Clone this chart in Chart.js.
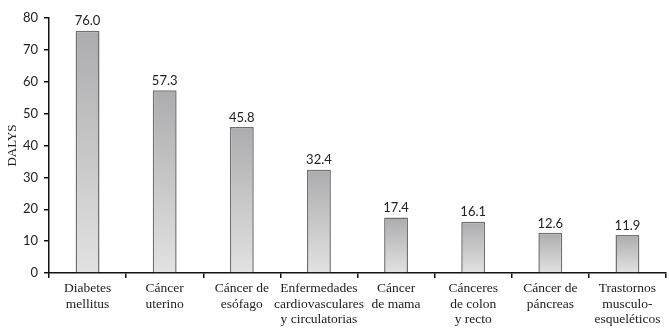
<!DOCTYPE html>
<html><head><meta charset="utf-8">
<script src="https://cdn.jsdelivr.net/npm/chart.js@4"></script>
<style>html,body{margin:0;padding:0;background:#fff}#wrap{width:669px;height:334px}</style>
</head><body><div id="wrap"><canvas id="c" width="669" height="334"></canvas></div>
<script>
const categories = [
  ["Diabetes","mellitus"],
  ["Cáncer","uterino"],
  ["Cáncer de","esófago"],
  ["Enfermedades","cardiovasculares","y circulatorias"],
  ["Cáncer","de mama"],
  ["Cánceres","de colon","y recto"],
  ["Cáncer de","páncreas"],
  ["Trastornos","musculo-","esqueléticos"]
];
const dalys = [76.0, 57.3, 45.8, 32.4, 17.4, 16.1, 12.6, 11.9];
const yTicks = [0,10,20,30,40,50,60,70,80];

const valueLabels = {
  id:'valueLabels',
  afterDatasetsDraw(chart){
    const ctx = chart.ctx;
    const meta = chart.getDatasetMeta(0);
    ctx.save();
    ctx.font = '13px Lato';
    ctx.fillStyle = '#222';
    ctx.textAlign = 'center';
    ctx.textBaseline = 'bottom';
    meta.data.forEach((el,i)=>{
      ctx.fillText(dalys[i].toFixed(1), el.x, el.y - 3);
    });
    ctx.restore();
  }
};

new Chart(document.getElementById('c'), {
  type:'bar',
  data:{
    labels: categories,
    datasets:[{
      data: dalys,
      backgroundColor(ctx){
        const ch = ctx.chart;
        const ca = ch.chartArea;
        if(!ca || ctx.dataIndex === undefined) return '#ccc';
        const ys = ch.scales.y;
        const top = ys.getPixelForValue(dalys[ctx.dataIndex]);
        const bot = ys.getPixelForValue(0);
        const g = ch.ctx.createLinearGradient(0, top, 0, bot);
        g.addColorStop(0, '#acacae');
        g.addColorStop(1, '#e2e2e2');
        return g;
      },
      borderColor:'#707070',
      borderWidth:1.5,
      borderSkipped:'bottom',
      categoryPercentage:1,
      barPercentage:0.31
    }]
  },
  options:{
    responsive:false,
    animation:false,
    layout:{padding:{top:18,right:3,left:0,bottom:0}},
    plugins:{legend:{display:false},tooltip:{enabled:false},title:{display:false}},
    scales:{
      x:{
        grid:{display:true,drawOnChartArea:false,drawTicks:true,tickLength:5,color:'#111',lineWidth:1.5,offset:true},
        border:{display:true,color:'#111',width:1.5},
        ticks:{color:'#222',font:{family:'Liberation Serif',size:13.5,lineHeight:1.15},maxRotation:0,autoSkip:false,padding:3},
        afterFit(s){s.height=61;}
      },
      y:{
        min:0,max:80,
        afterBuildTicks(s){s.ticks = yTicks.map(v=>({value:v}));},
        grid:{display:true,drawOnChartArea:false,drawTicks:true,tickLength:5,color:'#111',lineWidth:1.5},
        border:{display:true,color:'#111',width:1.5},
        ticks:{color:'#222',font:{family:'Lato',size:13},padding:6},
        title:{display:true,text:'DALYS',color:'#222',font:{family:'Liberation Serif',size:13},padding:{top:5,bottom:0}},
        afterFit(s){s.width=49;}
      }
    }
  },
  plugins:[valueLabels]
});
</script>
</body></html>
